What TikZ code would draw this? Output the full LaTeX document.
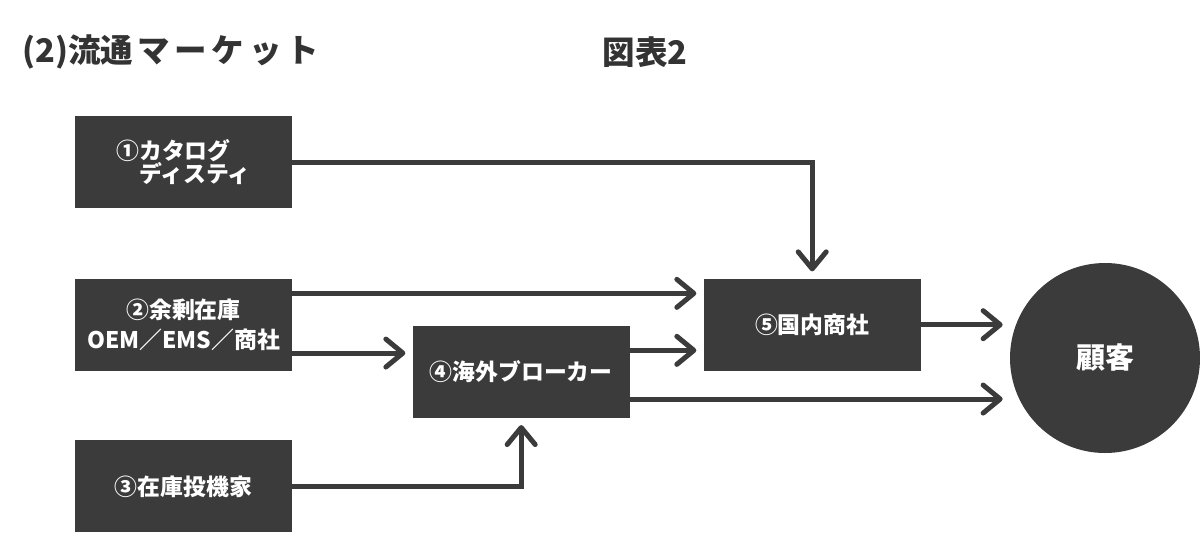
\documentclass[tikz,border=0pt]{standalone}
\usepackage{fontspec}
\setmainfont{Noto Sans CJK JP}
\usepackage{xcolor}
\definecolor{cdark}{HTML}{3B3B3B}
\definecolor{ctitle}{HTML}{333333}
\usepackage{tikz}
\usetikzlibrary{positioning,arrows.meta,calc}

\begin{document}
\begin{tikzpicture}[font=\bfseries,
  box/.style={fill=cdark, draw=none, minimum width=4.34cm, minimum height=1.84cm, inner sep=0pt,
    text=white, align=center, font=\bfseries\fontsize{13}{14.5}\selectfont},
  flow/.style={draw=cdark, line width=1mm, -{Straight Barb[length=3.4mm,width=5.6mm,round]}, shorten >=1.4mm}]
  \useasboundingbox (0,0) rectangle (24,-11);
  % titles
  \node[anchor=west, inner sep=0pt, text=ctitle, font=\bfseries\fontsize{18.5}{20}\selectfont] (ttl) at (0.44,-1.04)
    {(2)流通\hspace{.12em}マ\hspace{.15em}ー\hspace{.15em}ケ\hspace{.15em}ッ\hspace{.15em}ト};
  \node[text=ctitle, font=\bfseries\fontsize{18.5}{20}\selectfont] (fig) at (12.9,-1.04) {図表2};
  % sources
  \node[box, align=left] (cat) at (3.67,-3.24) {①カタログ\\[-1pt]\hspace*{1em}ディスティ};
  \node[box, below=1.4cm of cat] (surp) {②余剰在庫\\[3pt]OEM／EMS／商社};
  \node[box, below=1.38cm of surp] (spec) {③在庫投機家};
  % intermediaries
  \node[box, right=2.4cm of surp, yshift=-0.94cm] (brk) {④海外ブローカー};
  \node[box, right=8.22cm of surp] (dom) {⑤国内商社};
  \node[circle, fill=cdark, minimum size=3.8cm, inner sep=0pt, text=white,
    font=\bfseries\fontsize{16.5}{18}\selectfont] (cust) at (22.1,-7.16) {顧客};
  % flows
  \draw[flow] (cat.east) -| (dom.north);
  \draw[flow] ([yshift=-3mm]surp.north east) coordinate (s1) -- (s1 -| dom.west);
  \draw[flow] ([yshift=3.6mm]surp.south east) coordinate (s2) -- (s2 -| brk.west);
  \draw[flow] (spec.east) -| (brk.south);
  \draw[flow] ([yshift=-5mm]brk.north east) coordinate (b1) -- (b1 -| dom.west);
  \draw[flow] ([yshift=3.8mm]brk.south east) coordinate (b2) -- (b2 -| cust.west);
  \draw[flow] (dom.east) -- (dom.east -| cust.west);
\end{tikzpicture}
\end{document}
